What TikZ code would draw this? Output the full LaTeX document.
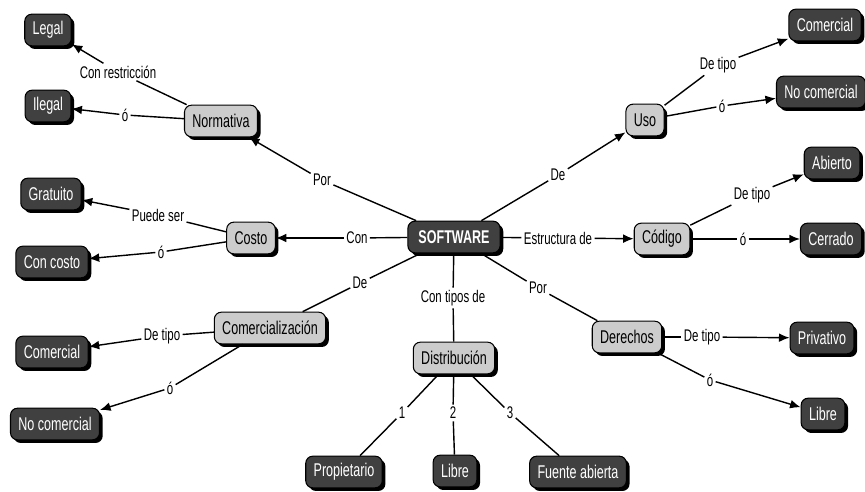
\documentclass[tikz,border=0pt]{standalone}
\usepackage{fontspec}
\setmainfont[FakeStretch=0.68]{Liberation Sans}
\usetikzlibrary{shadows,arrows.meta}
\tikzset{
  base/.style={rounded corners=4pt, draw=black, line width=0.6pt,
    minimum height=18pt, inner xsep=4.5pt,
    drop shadow={shadow xshift=1.8pt, shadow yshift=-1.8pt, fill=black, opacity=1},
    font=\fontsize{10.5}{11}\selectfont},
  concepto/.style={base, fill=gray!40},
  hoja/.style={base, fill=black!75, text=white},
  raiz/.style={hoja, inner xsep=6pt, font=\fontsize{10.5}{11}\selectfont\bfseries},
  enlace/.style={fill=white, inner sep=1pt, font=\fontsize{9.6}{10}\selectfont},
  flecha/.style={-{Latex[length=6pt,width=5pt]}},
}
\begin{document}
\begin{tikzpicture}[x=0.02cm, y=-0.02cm, line width=0.8pt]
  \useasboundingbox (0,0) rectangle (865,492);
  % conceptos
  \node[raiz] (software) at (454,237) {SOFTWARE};
  \node[concepto] (normativa) at (221,121) {Normativa};
  \node[concepto] (uso) at (645,120) {Uso};
  \node[concepto] (costo) at (251,238) {Costo};
  \node[concepto] (codigo) at (662,239) {Código};
  \node[concepto] (comerc) at (270,328) {Comercialización};
  \node[concepto] (distrib) at (454,358) {Distribución};
  \node[concepto] (derechos) at (627,337) {Derechos};
  % hojas
  \node[hoja] (legal) at (48,30) {Legal};
  \node[hoja] (ilegal) at (48,106) {Ilegal};
  \node[hoja] (gratuito) at (51,194) {Gratuito};
  \node[hoja] (concosto) at (52,262) {Con costo};
  \node[hoja] (comercialI) at (52,352) {Comercial};
  \node[hoja] (nocomercialI) at (55,424) {No comercial};
  \node[hoja] (propietario) at (344,472) {Propietario};
  \node[hoja] (libreD) at (455,471) {Libre};
  \node[hoja] (fuente) at (578,472) {Fuente abierta};
  \node[hoja] (privativo) at (822,338) {Privativo};
  \node[hoja] (libreR) at (823,414) {Libre};
  \node[hoja] (cerrado) at (831,239) {Cerrado};
  \node[hoja] (abierto) at (832,163) {Abierto};
  \node[hoja] (comercialS) at (825,25) {Comercial};
  \node[hoja] (nocomercialS) at (821,92) {No comercial};
  % frases de enlace
  \node[enlace] (lNor) at (322,180) {Por};
  \node[enlace] (lUso) at (558,175) {De};
  \node[enlace] (lCos) at (357,238) {Con};
  \node[enlace] (lCod) at (558,238) {Estructura de};
  \node[enlace] (lCom) at (360,283) {De};
  \node[enlace] (lDis) at (453,298) {Con tipos de};
  \node[enlace] (lDer) at (538,288) {Por};
  \node[enlace] (lLeg) at (118,72) {Con restricción};
  \node[enlace] (lIle) at (125,115) {ó};
  \node[enlace] (lUcom) at (718,65) {De tipo};
  \node[enlace] (lUno) at (722,106) {ó};
  \node[enlace] (lAbi) at (752,195) {De tipo};
  \node[enlace] (lCer) at (743,239) {ó};
  \node[enlace] (lGra) at (158,215) {Puede ser};
  \node[enlace] (lCco) at (161,252) {ó};
  \node[enlace] (lCcom) at (162,336) {De tipo};
  \node[enlace] (lCno) at (170,388) {ó};
  \node[enlace] (l1) at (402,413) {1};
  \node[enlace] (l2) at (453,413) {2};
  \node[enlace] (l3) at (510,413) {3};
  \node[enlace] (lPri) at (702,337) {De tipo};
  \node[enlace] (lLib) at (710,380) {ó};
  % conexiones
  \draw (software) -- (lNor); \draw[flecha] (lNor) -- (normativa);
  \draw (software) -- (lUso); \draw[flecha] (lUso) -- (uso);
  \draw (software) -- (lCos); \draw[flecha] (lCos) -- (costo);
  \draw (software) -- (lCod); \draw[flecha] (lCod) -- (codigo);
  \draw (software) -- (lCom); \draw (lCom) -- (comerc);
  \draw (software) -- (lDis); \draw (lDis) -- (distrib);
  \draw (software) -- (lDer); \draw (lDer) -- (derechos);
  \draw (normativa) -- (lLeg); \draw[flecha] (lLeg) -- (legal);
  \draw (normativa) -- (lIle); \draw[flecha] (lIle) -- (ilegal);
  \draw (uso) -- (lUcom); \draw[flecha] (lUcom) -- (comercialS);
  \draw (uso) -- (lUno); \draw[flecha] (lUno) -- (nocomercialS);
  \draw (codigo) -- (lAbi); \draw[flecha] (lAbi) -- (abierto);
  \draw (codigo) -- (lCer); \draw[flecha] (lCer) -- (cerrado);
  \draw (costo) -- (lGra); \draw[flecha] (lGra) -- (gratuito);
  \draw (costo) -- (lCco); \draw[flecha] (lCco) -- (concosto);
  \draw (comerc) -- (lCcom); \draw[flecha] (lCcom) -- (comercialI);
  \draw (comerc) -- (lCno); \draw[flecha] (lCno) -- (nocomercialI);
  \draw (distrib) -- (l1); \draw (l1) -- (propietario);
  \draw (distrib) -- (l2); \draw (l2) -- (libreD);
  \draw (distrib) -- (l3); \draw (l3) -- (fuente);
  \draw (derechos) -- (lPri); \draw[flecha] (lPri) -- (privativo);
  \draw (derechos) -- (lLib); \draw[flecha] (lLib) -- (libreR);
\end{tikzpicture}
\end{document}
